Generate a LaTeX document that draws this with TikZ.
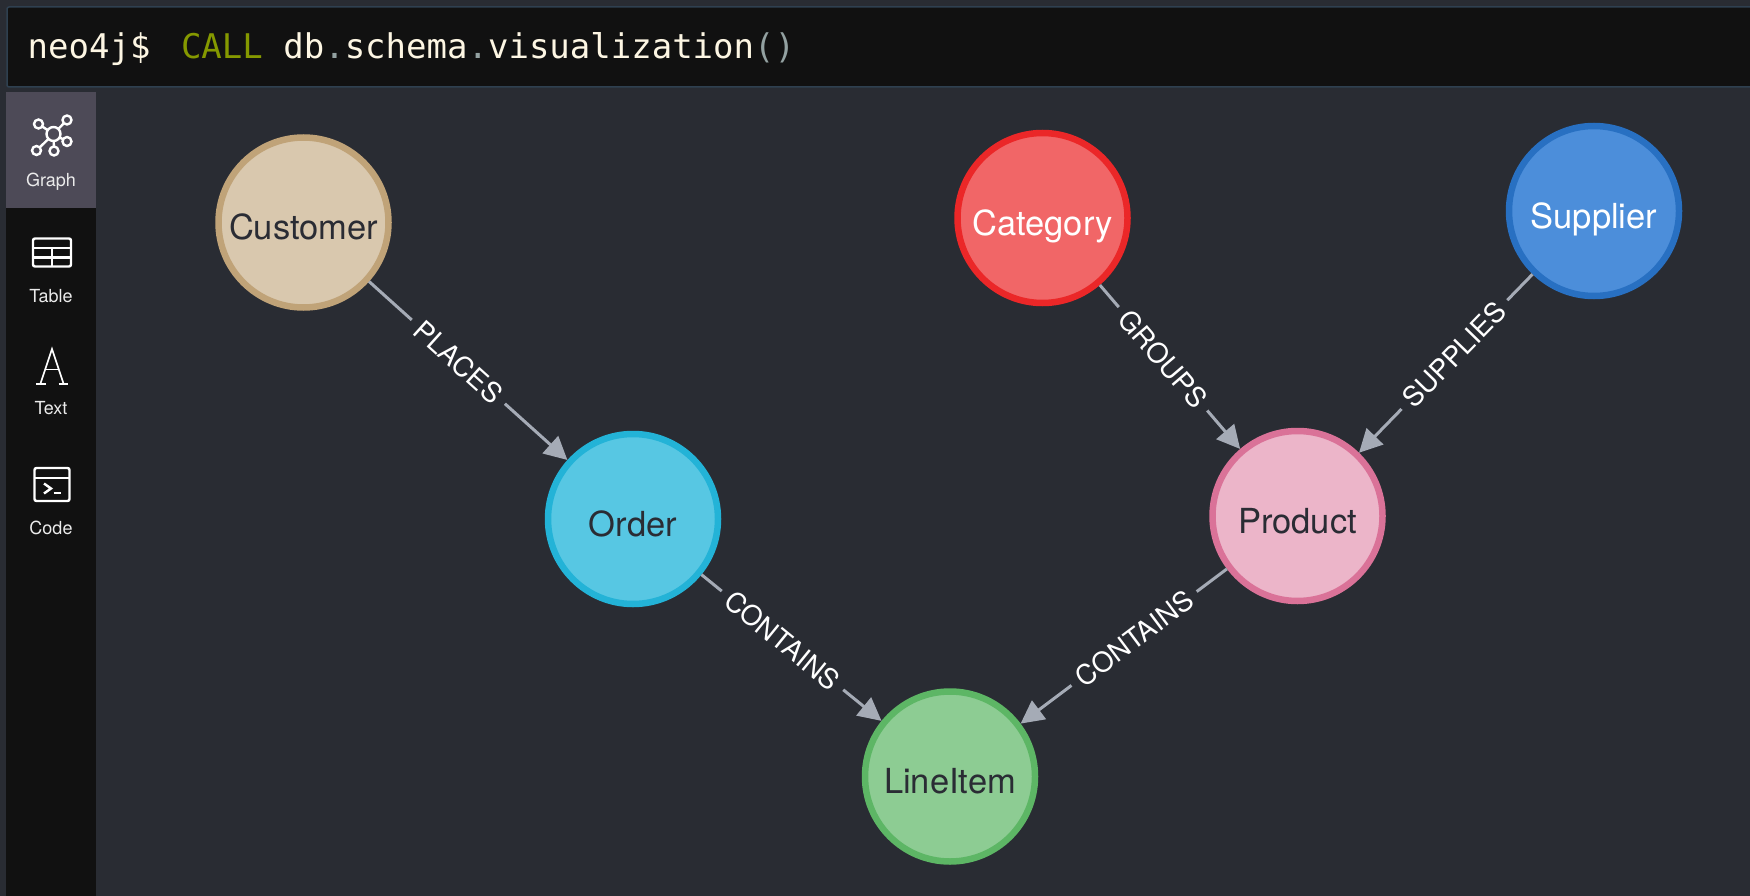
\documentclass[tikz,border=0pt]{standalone}
\usepackage{fontspec}
\setmainfont{TeX Gyre Heros}
\newfontfamily\cmdfont{DejaVu Sans Mono}
\usetikzlibrary{arrows.meta}
\definecolor{bgcol}{HTML}{292C33}
\definecolor{barcol}{HTML}{111111}
\definecolor{barborder}{HTML}{2F4050}
\definecolor{menusel}{HTML}{4D4A57}
\definecolor{linkcol}{HTML}{A5ABB6}
\definecolor{darktext}{HTML}{2A2C34}
\definecolor{cmdtext}{HTML}{FDF6E3}
\definecolor{cmdkey}{HTML}{859900}
\definecolor{cmdpunct}{HTML}{93A1A1}
\definecolor{customerfill}{HTML}{D9C8AE}
\definecolor{customerring}{HTML}{C0A378}
\definecolor{orderfill}{HTML}{57C7E3}
\definecolor{orderring}{HTML}{23B3D7}
\definecolor{categoryfill}{HTML}{F16667}
\definecolor{categoryring}{HTML}{EB2728}
\definecolor{supplierfill}{HTML}{4C8EDA}
\definecolor{supplierring}{HTML}{2870C2}
\definecolor{productfill}{HTML}{ECB5C9}
\definecolor{productring}{HTML}{DA7298}
\definecolor{lineitemfill}{HTML}{8DCC93}
\definecolor{lineitemring}{HTML}{5DB665}
\def\nodesize{170pt}
\def\ringwidth{6.5pt}
\def\iconline{2.4pt}
\newcommand{\punct}[1]{\textcolor{cmdpunct}{#1}}
\tikzset{
    entity/.style = {
        circle, fill=#1fill, draw=#1ring, line width=\ringwidth, minimum size=\nodesize, inner sep=0pt,
        text=darktext, text height=34pt, text depth=0pt, font=\fontsize{34.5}{35}\selectfont
    },
    link/.style = {
        draw=linkcol, line width=3pt, -{Triangle[width=23pt,length=23pt]}
    },
    linklabel/.style = {
        pos=0.45, sloped, fill=bgcol, text=white, inner xsep=8.5pt, inner ysep=3pt,
        font=\fontsize{27.5}{28}\selectfont
    },
    menulabel/.style = {
        text=white!92!black, font=\fontsize{18}{18}\selectfont, inner sep=0pt
    },
    icon/.style = {
        draw=white, line width=\iconline
    },
    GraphIcon/.pic = {
        \draw[icon] (0,0) circle (7pt);
        \foreach \x/\y in {-15/-10, 13.5/-14, 13.5/7.5, 0.5/17, -17/16.5}{
            \draw[icon] (\x,\y) circle (4.5pt);
            \draw[icon, shorten >=4.5pt, shorten <=7pt] (0,0) -- (\x,\y);
        }
    },
    TableIcon/.pic = {
        \draw[icon, rounded corners=2pt] (-19,-14) rectangle (19,14);
        \draw[icon] (-19,-4.5) -- (19,-4.5);
        \draw[icon] (-19,5) -- (19,5);
        \draw[icon] (0,-4.5) -- (0,14);
    },
    TextIcon/.pic = {
        \draw[icon, line width=1.7pt] (-11.5,17) -- (0,-17.5) -- (11.5,17);
        \draw[icon, line width=1.7pt] (-7,3) -- (7,3);
        \draw[icon, line width=1.9pt] (-16,17.5) -- (-6.5,17.5);
        \draw[icon, line width=1.9pt] (6.5,17.5) -- (16,17.5);
    },
    CodeIcon/.pic = {
        \draw[icon, rounded corners=2pt] (-17.5,-16.5) rectangle (17.5,16.5);
        \draw[icon] (-17.5,-6.5) -- (17.5,-6.5);
        \draw[icon] (-8,-1) -- (-1,4) -- (-8,9);
        \draw[icon] (1.5,8.5) -- (9,8.5);
    },
}
\begin{document}
\begin{tikzpicture}[x=1pt, y=-1pt]
    \useasboundingbox (0,0) rectangle (1750,896);
    \clip (0,0) rectangle (1750,896);
    \fill[bgcol] (0,0) rectangle (1750,896);

    % Command bar
    \draw[fill=barcol, draw=barborder, line width=1.5pt, rounded corners=2pt] (7,7) rectangle (1770,87);
    \node[anchor=base west, inner sep=0pt, text=cmdtext, font=\cmdfont\fontsize{34}{34}\selectfont] (cmd) at (27.5,59)
        {neo4j\$\hspace{30.5pt}\textcolor{cmdkey}{CALL} db\punct{.}schema\punct{.}visualization\punct{()}};

    % Side menu
    \fill[barcol] (6,92) rectangle (96,896);
    \fill[menusel] (6,92) rectangle (96,208);
    \draw pic (graphicon) at (53.5,134) {GraphIcon};
    \draw pic (tableicon) at (52,252.5) {TableIcon};
    \draw pic (texticon) at (52,366.5) {TextIcon};
    \draw pic (codeicon) at (52,484.5) {CodeIcon};
    \node[menulabel] (graphlabel) at (51,181.5) {Graph};
    \node[menulabel] (tablelabel) at (51,296) {Table};
    \node[menulabel] (textlabel) at (51,408) {Text};
    \node[menulabel] (codelabel) at (51,528) {Code};

    % Place the nodes
    \node[entity=customer] (customer) at (303.5,222.5) {Customer};
    \node[entity=order] (order) at (633,519) {Order};
    \node[entity=category, text=white] (category) at (1042.5,218) {Category};
    \node[entity=supplier, text=white] (supplier) at (1594,211) {Supplier};
    \node[entity=product] (product) at (1297.5,516) {Product};
    \node[entity=lineitem] (lineitem) at (950,776.5) {LineItem};

    % Draw connections
    \draw[link] (customer) -- node[linklabel] (places) {PLACES} (order);
    \draw[link] (category) -- node[linklabel] (groups) {GROUPS} (product);
    \draw[link] (supplier) -- node[linklabel] (supplies) {SUPPLIES} (product);
    \draw[link] (order) -- node[linklabel] (ordercontains) {CONTAINS} (lineitem);
    \draw[link] (product) -- node[linklabel] (productcontains) {CONTAINS} (lineitem);
\end{tikzpicture}
\end{document}
